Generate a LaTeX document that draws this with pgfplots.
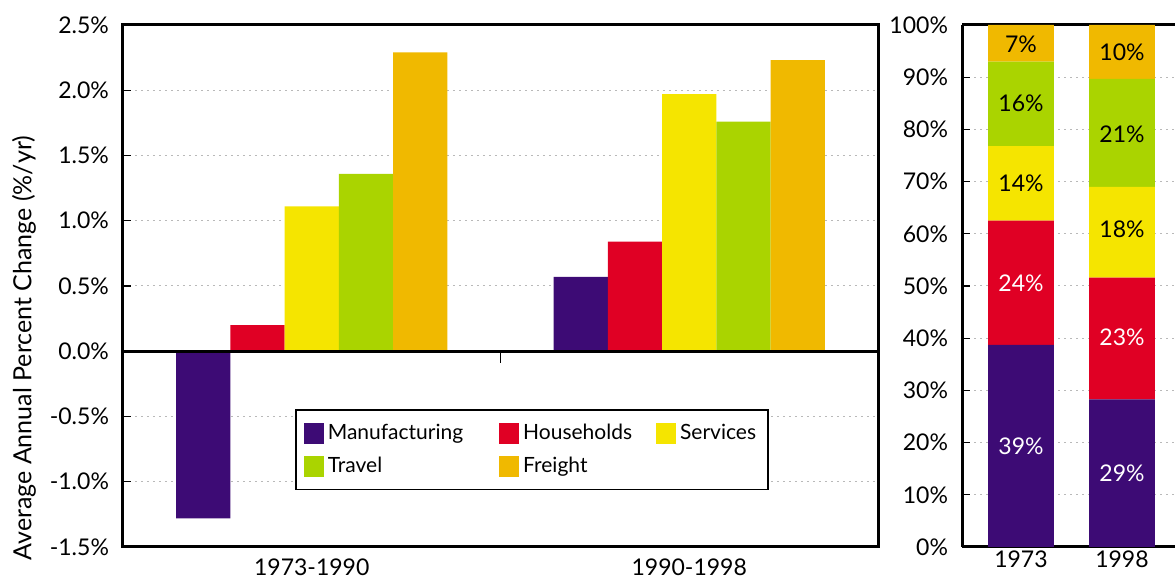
\documentclass[border=0pt]{standalone}
\usepackage{pgfplots}
\pgfplotsset{compat=1.18}
\usepackage{fontspec}
\setmainfont{Lato}
\definecolor{cMan}{RGB}{61,11,117}
\definecolor{cHou}{RGB}{224,0,36}
\definecolor{cSer}{RGB}{245,229,0}
\definecolor{cTra}{RGB}{170,212,0}
\definecolor{cFre}{RGB}{240,185,0}
\begin{document}
\fontsize{11.5}{13}\selectfont
\begin{tikzpicture}
\useasboundingbox (0,0) rectangle (587.5pt,289pt);
\pgfplotsset{
  common/.style={
    scale only axis,
    font=\fontsize{11.5}{13}\selectfont,
    axis line style={line width=1.5pt},
    tick align=inside,
    major tick length=4pt,
    y tick style={black, line width=0.6pt},
    x tick style={draw=none},
    ymajorgrids,
    grid style={gray!55, dash pattern=on 1.2pt off 1.8pt, line width=0.5pt},
    yticklabel style={xshift=-3pt},
    xticklabel style={yshift=2pt},
    enlarge x limits=false,
    enlarge y limits=false,
  }
}
\node[rotate=90, font=\fontsize{12.5}{14}\selectfont] at (12pt,115pt) {Average Annual Percent Change (\%/yr)};
\begin{axis}[common,
  at={(61.5pt,15.5pt)}, anchor=south west,
  width=377.5pt, height=261pt,
  xmin=-0.5, xmax=1.5, ymin=-1.5, ymax=2.5,
  ybar=0pt, bar width=0.1436,
  xtick={0,1}, xticklabels={1973-1990,1990-1998},
  ytick pos=left,
  ytick={-1.5,-1,-0.5,0,0.5,1,1.5,2,2.5},
  yticklabels={-1.5\%,-1.0\%,-0.5\%,0.0\%,0.5\%,1.0\%,1.5\%,2.0\%,2.5\%},
  legend columns=3,
  legend cell align=left,
  legend image code/.code={\fill[#1] (0pt,-5.2pt) rectangle (10pt,5.2pt);},
  legend style={at={(rel axis cs:0.228,0.264)}, anchor=north west,
    font=\fontsize{10.5}{12}\selectfont,
    draw=black, line width=0.7pt, inner xsep=4pt, inner ysep=5pt,
    row sep=3pt,
    /tikz/column 2/.style={column sep=16pt},
    /tikz/column 4/.style={column sep=10pt}},
]
\addplot[fill=cMan, draw=none] coordinates {(0,-1.28) (1,0.57)};
\addplot[fill=cHou, draw=none] coordinates {(0,0.20) (1,0.84)};
\addplot[fill=cSer, draw=none] coordinates {(0,1.11) (1,1.97)};
\addplot[fill=cTra, draw=none] coordinates {(0,1.36) (1,1.76)};
\addplot[fill=cFre, draw=none] coordinates {(0,2.29) (1,2.23)};
\legend{Manufacturing,Households,Services,Travel,Freight}
\draw[black, line width=1.4pt] (axis cs:-0.5,0) -- (axis cs:1.5,0);
\draw[black, line width=0.6pt] (axis cs:0.5,0) -- ([yshift=-6pt]axis cs:0.5,0);
\end{axis}
\begin{axis}[common,
  at={(481pt,15.5pt)}, anchor=south west,
  width=106.5pt, height=261pt,
  xmin=-0.584, xmax=1.525, ymin=0, ymax=100,
  ybar stacked, bar width=0.653,
  axis x line*=box, axis y line*=left,
  xtick={0,1}, xticklabels={1973,1998},
  ytick={0,10,20,30,40,50,60,70,80,90,100},
  yticklabels={0\%,10\%,20\%,30\%,40\%,50\%,60\%,70\%,80\%,90\%,100\%},
]
\addplot[fill=cMan, draw=none] coordinates {(0,38.7) (1,28.3)};
\addplot[fill=cHou, draw=none] coordinates {(0,23.8) (1,23.3)};
\addplot[fill=cSer, draw=none] coordinates {(0,14.3) (1,17.4)};
\addplot[fill=cTra, draw=none] coordinates {(0,16.2) (1,20.7)};
\addplot[fill=cFre, draw=none] coordinates {(0,7.0) (1,10.3)};
\coordinate (a1) at (axis cs:0,19.35);
\coordinate (a2) at (axis cs:0,50.6);
\coordinate (a3) at (axis cs:0,69.6);
\coordinate (a4) at (axis cs:0,85.0);
\coordinate (a5) at (axis cs:0,96.3);
\coordinate (b1) at (axis cs:1,14.1);
\coordinate (b2) at (axis cs:1,40.1);
\coordinate (b3) at (axis cs:1,60.9);
\coordinate (b4) at (axis cs:1,79.1);
\coordinate (b5) at (axis cs:1,94.8);
\end{axis}
\begin{scope}[every node/.style={font=\fontsize{11.5}{13}\selectfont}]
\node[white] at (a1) {39\%};
\node[white] at (a2) {24\%};
\node at (a3) {14\%};
\node at (a4) {16\%};
\node at (a5) {7\%};
\node[white] at (b1) {29\%};
\node[white] at (b2) {23\%};
\node at (b3) {18\%};
\node at (b4) {21\%};
\node at (b5) {10\%};
\end{scope}
\end{tikzpicture}
\end{document}
